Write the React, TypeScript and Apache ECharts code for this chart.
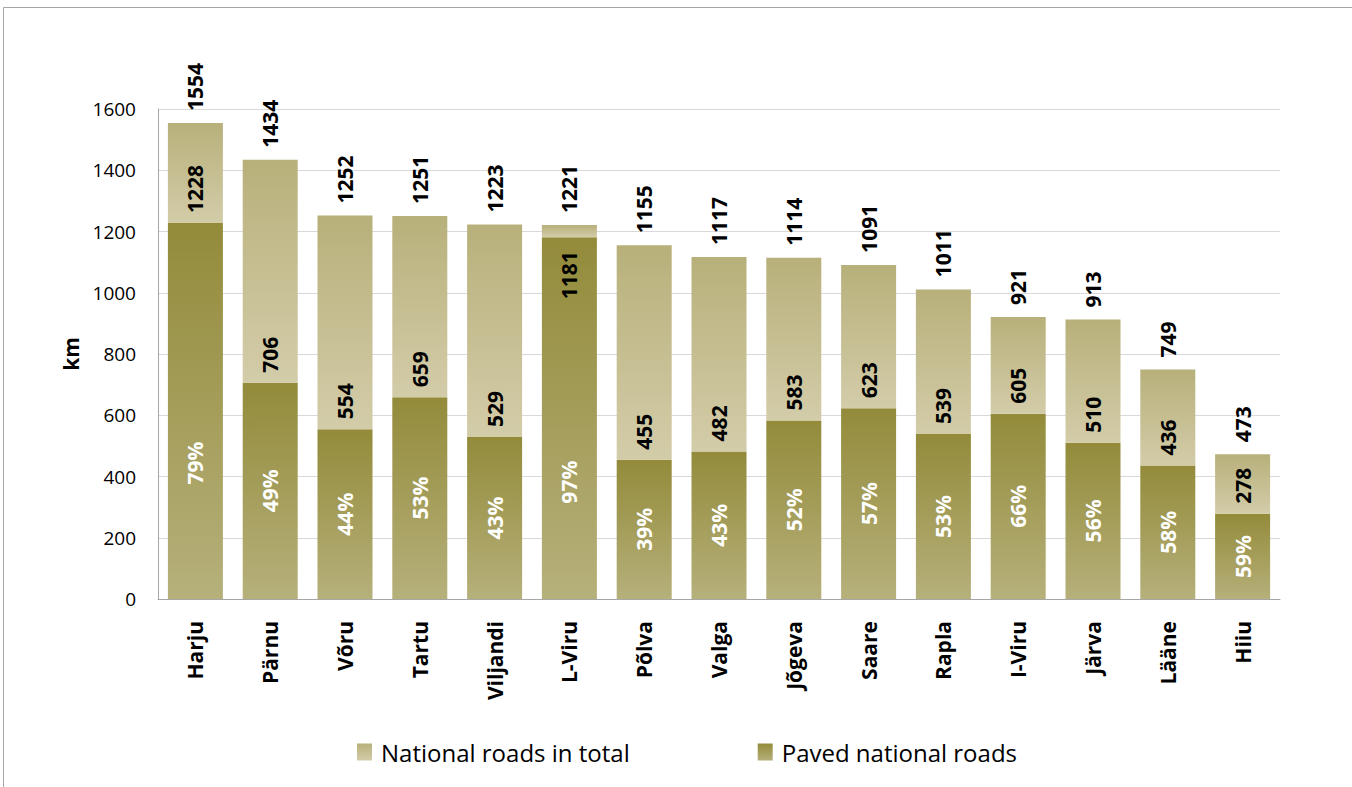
import React, { useEffect, useRef } from "react";
import * as echarts from "echarts";

const categories = ["Harju", "Pärnu", "Võru", "Tartu", "Viljandi", "L-Viru", "Põlva", "Valga", "Jõgeva", "Saare", "Rapla", "I-Viru", "Järva", "Lääne", "Hiiu"];
const totalRoads = [1554, 1434, 1252, 1251, 1223, 1221, 1155, 1117, 1114, 1091, 1011, 921, 913, 749, 473];
const pavedRoads = [1228, 706, 554, 659, 529, 1181, 455, 482, 583, 623, 539, 605, 510, 436, 278];
const yTicks = { min: 0, max: 1600, interval: 200 };

const FONT = "'Open Sans', 'Noto Sans', sans-serif";
const LEGEND_FONT = "'Liberation Sans Narrow', 'Open Sans', sans-serif";

export default function App() {
  const ref = useRef<HTMLDivElement>(null);

  useEffect(() => {
    if (!ref.current) return;
    const chart = echarts.init(ref.current, null, { renderer: "svg" });

    const remainder = totalRoads.map((t, i) => t - pavedRoads[i]);
    const pct = pavedRoads.map((p, i) => Math.round((p / totalRoads[i]) * 100));

    const pavedGrad = new echarts.graphic.LinearGradient(0, 0, 0, 1, [
      { offset: 0, color: "#938b3a" },
      { offset: 1, color: "#b6b07b" },
    ]);
    const totalGrad = new echarts.graphic.LinearGradient(0, 0, 0, 1, [
      { offset: 0, color: "#b8b07a" },
      { offset: 1, color: "#d3cca9" },
    ]);

    const boldLabel = {
      color: "#000",
      fontFamily: FONT,
      fontWeight: "bold" as const,
      fontSize: 21,
    };

    // label shift (px, downwards on screen) for the two tallest paved bars
    const pctShift: Record<number, number> = { 0: 52, 5: 64 };

    chart.setOption({
      animation: false,
      backgroundColor: "#ffffff",
      grid: { left: 158, right: 72, top: 109, bottom: 188 },
      legend: {
        data: ["National roads in total", "Paved national roads"],
        bottom: 18,
        left: 352,
        itemGap: 128,
        itemWidth: 15,
        itemHeight: 17,
        icon: "rect",
        textStyle: { fontFamily: LEGEND_FONT, fontSize: 24, color: "#000", padding: [0, 0, 0, 4] },
      },
      xAxis: {
        type: "category",
        data: categories,
        axisLine: { show: true, lineStyle: { color: "#a6a6a6", width: 1 } },
        axisTick: { show: false },
        axisLabel: { rotate: 90, margin: 22, ...boldLabel },
      },
      yAxis: {
        type: "value",
        min: yTicks.min,
        max: yTicks.max,
        interval: yTicks.interval,
        name: "km",
        nameLocation: "middle",
        nameRotate: 90,
        nameGap: 72,
        nameTextStyle: { ...boldLabel },
        axisLine: { show: true, lineStyle: { color: "#a6a6a6", width: 1 } },
        axisTick: { show: false },
        axisLabel: {
          margin: 22,
          color: "#000",
          fontFamily: FONT,
          fontSize: 19,
          formatter: (v: number) => String(v),
        },
        splitLine: { lineStyle: { color: "#d9d9d9", width: 1 } },
      },
      graphic: [
        { type: "line", shape: { x1: 3.5, y1: 7.5, x2: 1352, y2: 7.5 }, style: { stroke: "#a6a6a6", lineWidth: 1 } },
        { type: "line", shape: { x1: 3.5, y1: 7.5, x2: 3.5, y2: 787 }, style: { stroke: "#a6a6a6", lineWidth: 1 } },
      ],
      series: [
        {
          name: "Paved national roads",
          type: "bar",
          stack: "roads",
          barWidth: 55,
          barGap: "-100%",
          itemStyle: { color: pavedGrad },
          data: pavedRoads.map((v, i) =>
            pctShift[i] !== undefined
              ? { value: v, label: { offset: [-pctShift[i], 0] } }
              : { value: v }
          ),
          label: {
            show: true,
            position: "inside",
            rotate: 90,
            align: "center",
            verticalAlign: "middle",
            ...boldLabel,
            color: "#ffffff",
            formatter: (p: any) => pct[p.dataIndex] + "%",
          },
        },
        {
          name: "National roads in total",
          type: "bar",
          stack: "roads",
          barWidth: 55,
          barGap: "-100%",
          itemStyle: { color: totalGrad },
          data: remainder.map((v, i) =>
            i === 5
              ? { value: v, label: { position: "bottom", align: "right", distance: 14 } }
              : { value: v }
          ),
          label: {
            show: true,
            position: "insideBottom",
            distance: 10,
            rotate: 90,
            align: "left",
            verticalAlign: "middle",
            ...boldLabel,
            formatter: (p: any) => String(pavedRoads[p.dataIndex]),
          },
        },
        {
          name: "totalLabels",
          type: "bar",
          barWidth: 55,
          barGap: "-100%",
          data: totalRoads,
          itemStyle: { color: "rgba(0,0,0,0)" },
          silent: true,
          z: 1,
          label: {
            show: true,
            position: "top",
            distance: 12,
            rotate: 90,
            align: "left",
            verticalAlign: "middle",
            ...boldLabel,
            formatter: (p: any) => String(totalRoads[p.dataIndex]),
          },
        },
      ],
    });

    return () => chart.dispose();
  }, []);

  return (
    <div
      ref={ref}
      style={{ position: "fixed", left: 0, top: 0, width: 1352, height: 787, background: "#fff" }}
    />
  );
}
